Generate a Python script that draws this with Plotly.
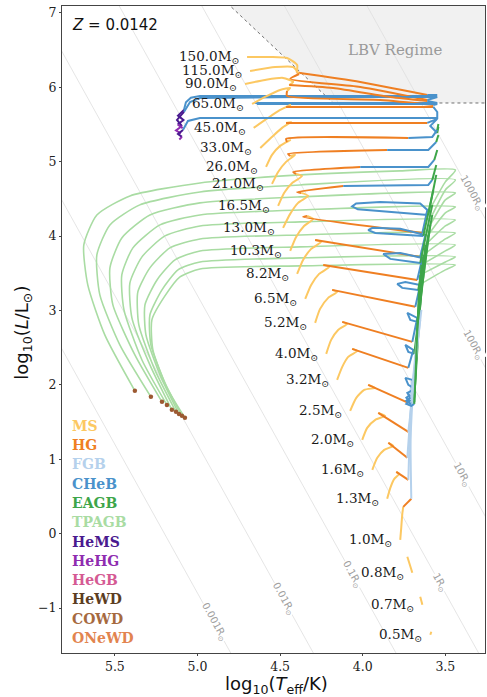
import math
import plotly.graph_objects as go

# ---------------------------------------------------------------------------
# Evolutionary phases and their colours
# ---------------------------------------------------------------------------
PHASE_NAMES = ["MS", "HG", "FGB", "CHeB", "EAGB", "TPAGB",
               "HeMS", "HeHG", "HeGB", "HeWD", "COWD", "ONeWD"]
PHASE_COLOURS = ["#fcc862", "#ef7f22", "#b5d1ec", "#4a92cb", "#3ea64a", "#a9dca3",
                 "#4a1a8f", "#8f2cb0", "#d55a93", "#5c3d22", "#a66a3f", "#e2844f"]

METALLICITY = 0.0142

# ---------------------------------------------------------------------------
# Tracks: (log Teff, log L) waypoints per phase for each initial mass
# ---------------------------------------------------------------------------
MASSES = [150.0, 115.0, 90.0, 65.0, 45.0, 33.0, 26.0, 21.0, 16.5, 13.0, 10.3,
          8.2, 6.5, 5.2, 4.0, 3.2, 2.5, 2.0, 1.6, 1.3, 1.0, 0.8, 0.7, 0.5]

TRACK_150 = {
    "MS": [(4.700, 6.409), (4.561, 6.409), (4.458, 6.395), (4.397, 6.301), (4.400, 6.200)],
    "HG": [(4.015, 6.073), (3.609, 5.898)],
    "CHeB": [(3.549, 5.898), (4.379, 5.885), (4.985, 5.885), (5.040, 5.860), (5.070, 5.800), (5.082, 5.696)],
    "HeMS": [(5.118, 5.620), (5.085, 5.560), (5.120, 5.500)],
    "HeHG": [(5.090, 5.450)],
}
TRACK_115 = {
    "MS": [(4.682, 6.221), (4.530, 6.274), (4.421, 6.274), (4.385, 6.180)],
    "HG": [(4.439, 6.113), (4.015, 6.006), (3.609, 5.831)],
    "CHeB": [(3.549, 5.871), (4.379, 5.871), (4.985, 5.858), (5.045, 5.804), (5.082, 5.670)],
    "HeMS": [(5.124, 5.562), (5.094, 5.480)],
    "HeHG": [(5.130, 5.420), (5.100, 5.380)],
}
TRACK_90 = {
    "MS": [(4.712, 6.046), (4.591, 6.100), (4.482, 6.127), (4.421, 6.073), (4.445, 6.032)],
    "HG": [(4.179, 5.992), (3.833, 5.871), (3.609, 5.817)],
    "CHeB": [(3.549, 5.791), (4.379, 5.791), (4.651, 5.791)],
}
TRACK_65 = {
    "MS": [(4.670, 5.777), (4.591, 5.871), (4.500, 5.965), (4.439, 5.992), (4.458, 5.952)],
    "HG": [(4.458, 5.885), (3.894, 5.831), (3.573, 5.764)],
    "CHeB": [(3.549, 5.777), (4.379, 5.777), (4.640, 5.777)],
}
TRACK_45 = {
    "MS": [(4.660, 5.455), (4.573, 5.589), (4.500, 5.696), (4.439, 5.764), (4.464, 5.737)],
    "HG": [(3.573, 5.737)],
    "CHeB": [(3.549, 5.669), (3.549, 5.589), (4.379, 5.589), (4.985, 5.589), (5.058, 5.549), (5.088, 5.428)],
    "HeMS": [(5.118, 5.374), (5.094, 5.334)],
    "HeHG": [(5.110, 5.300)],
}
TRACK_33 = {
    "MS": [(4.620, 5.186), (4.543, 5.347), (4.488, 5.455), (4.433, 5.535), (4.464, 5.522)],
    "HG": [(3.609, 5.522)],
    "CHeB": [(3.549, 5.576), (3.591, 5.482), (3.549, 5.387)],
    "EAGB": [(3.542, 5.470)],
}
TRACK_26 = {
    "MS": [(4.585, 4.930), (4.549, 5.092), (4.500, 5.213), (4.439, 5.293), (4.458, 5.266)],
    "HG": [(4.464, 5.307), (3.724, 5.320)],
    "CHeB": [(3.579, 5.334), (3.549, 5.428)],
    "EAGB": [(3.542, 5.508)],
}
TRACK_21 = {
    "MS": [(4.549, 4.702), (4.512, 4.863), (4.464, 4.998), (4.409, 5.092), (4.439, 5.078)],
    "HG": [(4.452, 5.105), (3.852, 5.159)],
    "CHeB": [(3.603, 5.159), (3.555, 5.266)],
    "EAGB": [(3.542, 5.360)],
}
TRACK_16_5 = {
    "MS": [(4.512, 4.406), (4.476, 4.581), (4.427, 4.715), (4.367, 4.809), (4.403, 4.836)],
    "HG": [(4.421, 4.863), (4.015, 4.930)],
    "CHeB": [(3.603, 4.930), (3.567, 5.024)],
    "EAGB": [(3.549, 5.159)],
}
TRACK_13 = {
    "MS": [(4.482, 4.111), (4.439, 4.299), (4.391, 4.447), (4.330, 4.541), (4.373, 4.581)],
    "HG": [(4.397, 4.594), (4.118, 4.675)],
    "CHeB": [(3.603, 4.688), (3.579, 4.756)],
    "EAGB": [(3.555, 4.957)],
}
TRACK_10_3 = {
    "MS": [(4.439, 3.801), (4.403, 3.989), (4.355, 4.137), (4.300, 4.231), (4.336, 4.272)],
    "HG": [(4.361, 4.258), (3.639, 4.043)],
    "CHeB": [(3.609, 4.352), (3.652, 4.440), (3.894, 4.460), (4.040, 4.440), (4.064, 4.400),
             (4.030, 4.360), (3.773, 4.312), (3.603, 4.285)],
    "EAGB": [(3.555, 4.823)],
}
TRACK_8_2 = {
    "MS": [(4.397, 3.492), (4.361, 3.680), (4.312, 3.828), (4.252, 3.922), (4.288, 3.949)],
    "HG": [(3.652, 3.721)],
    "CHeB": [(3.621, 4.016), (3.773, 4.100), (3.940, 4.111), (3.967, 4.080), (3.924, 4.043), (3.633, 4.003)],
    "EAGB": [(3.573, 4.621)],
}
TRACK_6_5 = {
    "MS": [(4.348, 3.156), (4.312, 3.344), (4.264, 3.492), (4.203, 3.586), (4.239, 3.613)],
    "HG": [(3.670, 3.411)],
    "CHeB": [(3.639, 3.707), (3.773, 3.774), (3.876, 3.761), (3.833, 3.694), (3.652, 3.640)],
    "EAGB": [(3.579, 4.420)],
    "TPAGB": [(3.500, 4.729), (3.439, 4.890), (3.773, 4.877), (4.379, 4.823), (4.985, 4.715),
              (5.409, 4.541), (5.609, 4.285), (5.688, 3.882), (5.664, 3.344), (5.561, 2.672),
              (5.379, 1.920)],
}
TRACK_5_2 = {
    "MS": [(4.288, 2.834), (4.258, 3.022), (4.209, 3.170), (4.155, 3.250), (4.185, 3.277)],
    "HG": [(3.682, 3.049)],
    "CHeB": [(3.652, 3.344), (3.742, 3.384), (3.791, 3.358), (3.761, 3.304), (3.664, 3.277)],
    "EAGB": [(3.579, 4.285)],
    "TPAGB": [(3.500, 4.621), (3.439, 4.756), (4.379, 4.688), (4.985, 4.594), (5.349, 4.420),
              (5.530, 4.151), (5.609, 3.747), (5.591, 3.210), (5.470, 2.538), (5.282, 1.839)],
}
TRACK_4_0 = {
    "MS": [(4.221, 2.417), (4.191, 2.605), (4.149, 2.739), (4.094, 2.820), (4.124, 2.847)],
    "HG": [(3.700, 2.578)],
    "CHeB": [(3.670, 2.900), (3.730, 2.968), (3.712, 2.874), (3.670, 2.847)],
    "EAGB": [(3.591, 4.151)],
    "TPAGB": [(3.500, 4.487), (3.439, 4.581), (4.379, 4.527), (4.985, 4.447), (5.288, 4.285),
              (5.458, 3.976), (5.530, 3.573), (5.512, 3.075), (5.379, 2.403), (5.215, 1.772)],
}
TRACK_3_2 = {
    "MS": [(4.155, 2.067), (4.124, 2.242), (4.088, 2.376), (4.033, 2.457), (4.064, 2.484)],
    "HG": [(3.724, 2.229)],
    "CHeB": [(3.694, 2.470), (3.742, 2.538), (3.724, 2.444), (3.688, 2.417)],
    "EAGB": [(3.603, 4.016)],
    "TPAGB": [(3.500, 4.312), (3.439, 4.393), (4.379, 4.352), (4.985, 4.285), (5.227, 4.151),
              (5.391, 3.842), (5.458, 3.479), (5.445, 3.008), (5.336, 2.335), (5.185, 1.731)],
}
TRACK_2_5 = {
    "MS": [(4.076, 1.651), (4.039, 1.826), (3.991, 1.933), (3.924, 1.960), (3.967, 2.000)],
    "HG": [(3.724, 1.758)],
    "FGB": [(3.700, 2.067)],
    "CHeB": [(3.742, 2.094), (3.724, 2.000), (3.694, 1.960)],
    "EAGB": [(3.621, 3.882)],
    "TPAGB": [(3.500, 4.137), (3.439, 4.218), (4.379, 4.191), (4.985, 4.137), (5.197, 4.003),
              (5.336, 3.721), (5.409, 3.371), (5.397, 2.901), (5.288, 2.269), (5.155, 1.664)],
}
TRACK_2_0 = {
    "MS": [(4.003, 1.261), (3.973, 1.422), (3.924, 1.530), (3.864, 1.584), (3.906, 1.624)],
    "HG": [(3.724, 1.368)],
    "FGB": [(3.694, 1.933)],
    "CHeB": [(3.730, 1.893), (3.712, 1.826), (3.688, 1.826)],
    "EAGB": [(3.633, 3.747)],
    "TPAGB": [(3.500, 3.962), (3.439, 4.043), (4.379, 4.016), (4.985, 3.962), (5.167, 3.842),
              (5.288, 3.573), (5.361, 3.250), (5.355, 2.806), (5.258, 2.201), (5.130, 1.637)],
}
TRACK_1_6 = {
    "MS": [(3.942, 0.858), (3.912, 1.019), (3.870, 1.126), (3.815, 1.180), (3.845, 1.221)],
    "HG": [(3.730, 1.019)],
    "FGB": [(3.694, 2.067), (3.652, 2.874)],
    "CHeB": [(3.712, 1.866), (3.736, 1.826), (3.718, 1.772), (3.694, 1.799)],
    "EAGB": [(3.645, 3.613)],
    "TPAGB": [(3.500, 3.801), (3.439, 3.882), (4.379, 3.855), (4.985, 3.801), (5.136, 3.680),
              (5.245, 3.411), (5.318, 3.075), (5.312, 2.672), (5.227, 2.134), (5.112, 1.610)],
}
TRACK_1_3 = {
    "MS": [(3.852, 0.468), (3.833, 0.616), (3.809, 0.737), (3.779, 0.804), (3.797, 0.831)],
    "HG": [(3.724, 0.723)],
    "FGB": [(3.706, 1.799), (3.660, 2.874)],
    "CHeB": [(3.712, 1.826), (3.736, 1.785), (3.712, 1.745), (3.688, 1.772)],
    "EAGB": [(3.652, 3.479)],
    "TPAGB": [(3.500, 3.653), (3.439, 3.721), (4.379, 3.707), (4.985, 3.653), (5.118, 3.546),
              (5.215, 3.277), (5.288, 2.941), (5.282, 2.538), (5.197, 2.027), (5.094, 1.584)],
}
TRACK_1_0 = {
    "MS": [(3.773, -0.083), (3.767, 0.078), (3.761, 0.253), (3.755, 0.360)],
    "HG": [(3.706, 0.468)],
    "FGB": [(3.710, 1.261), (3.690, 2.067), (3.645, 3.008)],
    "CHeB": [(3.712, 1.799), (3.736, 1.745), (3.706, 1.718), (3.688, 1.745)],
    "EAGB": [(3.658, 3.344)],
    "TPAGB": [(3.500, 3.546), (3.439, 3.613), (4.379, 3.600), (4.985, 3.559), (5.106, 3.452),
              (5.197, 3.196), (5.276, 2.874), (5.270, 2.470), (5.185, 1.960), (5.076, 1.557)],
}
TRACK_0_8 = {"MS": [(3.700, -0.527), (3.730, -0.311)]}
TRACK_0_7 = {"MS": [(3.639, -0.957), (3.652, -0.849)]}
TRACK_0_5 = {"MS": [(3.591, -1.360), (3.585, -1.320)]}

TRACKS = [TRACK_150, TRACK_115, TRACK_90, TRACK_65, TRACK_45, TRACK_33, TRACK_26,
          TRACK_21, TRACK_16_5, TRACK_13, TRACK_10_3, TRACK_8_2, TRACK_6_5, TRACK_5_2,
          TRACK_4_0, TRACK_3_2, TRACK_2_5, TRACK_2_0, TRACK_1_6, TRACK_1_3, TRACK_1_0,
          TRACK_0_8, TRACK_0_7, TRACK_0_5]

# Masses whose core-helium burning starts after a helium flash (no joining segment)
HELIUM_FLASH_MASSES = [1.6, 1.3, 1.0]

# Carbon-oxygen white dwarf end points
WD_LOGT = [5.379, 5.282, 5.215, 5.185, 5.155, 5.130, 5.112, 5.094, 5.076]
WD_LOGL = [1.920, 1.839, 1.772, 1.731, 1.664, 1.637, 1.610, 1.584, 1.557]

# Humphreys-Davidson (LBV) limit
LBV_LOGT = [4.900, 4.179, 3.200]
LBV_LOGL = [7.300, 5.790, 5.790]

# Iso-radius guide lines (solar radii) and the log Teff where each is labelled
RADII = [0.001, 0.01, 0.1, 1, 10, 100, 1000]
RADIUS_LABELS = ["0.001", "0.01", "0.1", "1", "10", "100", "1000"]
RADIUS_LABEL_LOGT = [4.903, 4.482, 4.064, 3.536, 3.397, 3.335, 3.345]
LOG_TEFF_REF = 3.70

X_RANGE = [5.82, 3.26]
Y_RANGE = [-1.605, 7.094]

SMOOTHED_PHASES = ["MS", "HG", "FGB", "TPAGB"]


def iso_radius_logl(radius, logt):
    return 2.0 * math.log10(radius) + 4.0 * (logt - LOG_TEFF_REF)


colour_of = dict(zip(PHASE_NAMES, PHASE_COLOURS))
fig = go.Figure()

# LBV region shading and its dotted boundary
fig.add_trace(go.Scatter(
    x=LBV_LOGT + [LBV_LOGT[-1], LBV_LOGT[0]],
    y=LBV_LOGL + [LBV_LOGL[0], LBV_LOGL[0]],
    fill="toself", fillcolor="#f1f1f1", line=dict(width=0),
    mode="lines", hoverinfo="skip", showlegend=False))
fig.add_trace(go.Scatter(
    x=LBV_LOGT, y=LBV_LOGL, mode="lines",
    line=dict(color="#707070", width=1, dash="dot"),
    hoverinfo="skip", showlegend=False))

# iso-radius lines
for r in RADII:
    xs = [5.95, 3.15]
    fig.add_trace(go.Scatter(
        x=xs, y=[iso_radius_logl(r, t) for t in xs], mode="lines",
        line=dict(color="#dedede", width=0.8), hoverinfo="skip", showlegend=False))

# evolutionary tracks, thermally pulsing AGB drawn underneath
phase_order = ["MS", "HG", "FGB", "CHeB", "EAGB", "TPAGB", "HeMS", "HeHG"]


def segments(mass, track):
    out = []
    prev = None
    for ph in phase_order:
        if ph not in track:
            continue
        pts = list(track[ph])
        joined = prev is not None and not (ph == "CHeB" and mass in HELIUM_FLASH_MASSES)
        if joined:
            pts = [prev] + pts
        out.append((ph, pts))
        prev = pts[-1]
    return out


all_segments = [(m, ph, pts) for m, tr in zip(MASSES, TRACKS) for ph, pts in segments(m, tr)]


def add_segment(ph, pts, width):
    if ph in SMOOTHED_PHASES:
        line = dict(color=colour_of[ph], width=width, shape="spline", smoothing=0.6)
    else:
        line = dict(color=colour_of[ph], width=width)
    fig.add_trace(go.Scatter(
        x=[p[0] for p in pts], y=[p[1] for p in pts], mode="lines",
        line=line, hoverinfo="skip", showlegend=False))


for m, ph, pts in all_segments:
    if ph == "TPAGB":
        add_segment(ph, pts, 1.6)

for m, ph, pts in all_segments:
    if ph != "TPAGB":
        add_segment(ph, pts, 2)

# white dwarf end points
fig.add_trace(go.Scatter(
    x=WD_LOGT, y=WD_LOGL, mode="markers",
    marker=dict(color="#9c5a32", size=4.5), hoverinfo="skip", showlegend=False))

annotations = []

# mass labels, placed just left of each zero-age main-sequence point
for m, tr in zip(MASSES, TRACKS):
    zt, zl = tr["MS"][0]
    annotations.append(dict(
        x=zt, y=zl, xref="x", yref="y", text=f"{m:.1f}M<sub>⊙</sub>",
        showarrow=False, xanchor="right", yanchor="middle", xshift=-6,
        font=dict(family="DejaVu Serif", size=13.5, color="#1a1a1a")))

# iso-radius labels
for r, lab, t in zip(RADII, RADIUS_LABELS, RADIUS_LABEL_LOGT):
    annotations.append(dict(
        x=t, y=iso_radius_logl(r, t), xref="x", yref="y",
        text=f"{lab}R<sub>⊙</sub>", showarrow=False, textangle=61,
        bgcolor="white", borderpad=0,
        font=dict(family="DejaVu Sans", size=10, color="#a0a0a0")))

# phase key
key_top = 0.351
for i, (name, col) in enumerate(zip(PHASE_NAMES, PHASE_COLOURS)):
    annotations.append(dict(
        x=0.019, y=key_top - i * 0.0298, xref="paper", yref="paper",
        text=f"<b>{name}</b>", showarrow=False, xanchor="left", yanchor="middle",
        font=dict(family="DejaVu Serif", size=14, color=col)))

annotations += [
    dict(x=3.803, y=6.503, xref="x", yref="y", text="LBV Regime", showarrow=False,
         font=dict(family="DejaVu Serif", size=15, color="#9a9a9a")),
    dict(x=5.773, y=6.839, xref="x", yref="y", text=f"<i>Z</i> = {METALLICITY}",
         showarrow=False, xanchor="left", yanchor="middle",
         font=dict(family="DejaVu Sans", size=15, color="#111")),
    dict(x=0.508, y=-0.050, xref="paper", yref="paper",
         text="log<sub>10</sub>(<i>T</i><sub>eff</sub>/K)", showarrow=False,
         xanchor="center", yanchor="middle",
         font=dict(family="DejaVu Sans", size=18, color="#111")),
    dict(x=-0.092, y=0.495, xref="paper", yref="paper",
         text="log<sub>10</sub>(<i>L</i>/L<sub>⊙</sub>)", showarrow=False, textangle=-90,
         xanchor="center", yanchor="middle",
         font=dict(family="DejaVu Sans", size=18, color="#111")),
]

axis_common = dict(showgrid=False, zeroline=False, showline=True, mirror=True,
                   linecolor="#444", linewidth=1, ticks="outside", ticklen=2,
                   tickcolor="#444", tickfont=dict(family="DejaVu Serif", size=12.5, color="#222"))

fig.update_layout(
    width=487, height=697,
    margin=dict(l=62, r=2, t=6, b=44),
    paper_bgcolor="white", plot_bgcolor="white",
    showlegend=False,
    annotations=annotations,
    xaxis=dict(range=X_RANGE, tickvals=[5.5, 5.0, 4.5, 4.0, 3.5],
               ticktext=["5.5", "5.0", "4.5", "4.0", "3.5"], **axis_common),
    yaxis=dict(range=Y_RANGE, tickvals=list(range(-1, 8)),
               ticktext=["\u22121", "0", "1", "2", "3", "4", "5", "6", "7"], **axis_common),
)

fig.write_html("out.html")
